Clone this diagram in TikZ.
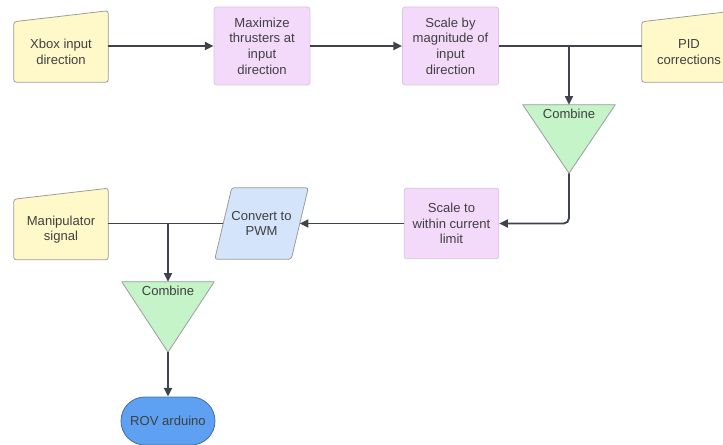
\documentclass[tikz,border=0pt]{standalone}
\usepackage{fontspec}
\setmainfont{Liberation Sans}
\usetikzlibrary{arrows.meta}
\usetikzlibrary{backgrounds}
\definecolor{infill}{HTML}{FFF9C9}
\definecolor{procfill}{HTML}{F3DAFB}
\definecolor{procline}{HTML}{D8C6E0}
\definecolor{combfill}{HTML}{C4F4C8}
\definecolor{convfill}{HTML}{D4E4FA}
\definecolor{rovfill}{HTML}{5EA0F2}
\definecolor{rovline}{HTML}{44709F}
\definecolor{edgegray}{HTML}{9C9C9C}
\definecolor{flowgray}{HTML}{3F444C}
\definecolor{txtgray}{HTML}{404040}
\begin{document}
\begin{tikzpicture}[x=0.75pt, y=-0.75pt,
    every node/.append style={font=\fontsize{9.8}{11.7}\selectfont, text=txtgray, align=center},
    inbox/.style={minimum width=70.5pt, minimum height=45pt, inner sep=0pt},
    inshape/.style={draw=edgegray, fill=infill, line width=0.6pt, rounded corners=2pt},
    procbox/.style={draw=procline, fill=procfill, line width=0.6pt, rounded corners=2pt, minimum width=72pt, minimum height=58.5pt},
    combbox/.style={minimum width=69pt, minimum height=51pt, inner sep=0pt},
    combshape/.style={draw=edgegray, fill=combfill, line width=0.6pt, line join=round},
    flow/.style={draw=flowgray, line width=1.4pt},
    arr/.style={flow, -{Triangle[length=6.5pt, width=6pt]}}]
    \useasboundingbox (0,0) rectangle (723,445);
    \node[inbox] (xbox) at (61,52) {Xbox input\\direction};
    \node[procbox] (max) at (262,46) {Maximize\\thrusters at\\input\\direction};
    \node[procbox] (scale) at (450.5,46) {Scale by\\magnitude of\\input\\direction};
    \node[inbox] (pid) at (689,52) {PID\\corrections};
    \node[combbox] (comb1) at (569,139) {};
    \node at ([yshift=-6.75pt]comb1.north) {Combine};
    \node[procbox, minimum width=71pt, minimum height=53pt] (limit) at (451.5,223.5) {Scale to\\within current\\limit};
    \node[minimum width=69.75pt, minimum height=53.25pt, inner sep=0pt] (conv) at (261.5,223.5) {Convert to\\PWM};
    \node[inbox] (manip) at (61,229.5) {Manipulator\\signal};
    \node[combbox, minimum height=52.5pt] (comb2) at (168,317) {};
    \node at ([yshift=-6.75pt]comb2.north) {Combine};
    \node[draw=rovline, fill=rovfill, line width=0.6pt, rounded corners=17.9pt, minimum width=70.5pt, minimum height=36pt] (rov) at (168,421) {ROV arduino};
    \begin{scope}[on background layer]
        \draw[inshape] (xbox.south west) -- (xbox.south east) -- ([yshift=8.25pt]xbox.north east) -- (xbox.north west) -- cycle;
        \draw[inshape] (pid.south west) -- (pid.south east) -- ([yshift=8.25pt]pid.north east) -- (pid.north west) -- cycle;
        \draw[inshape] (manip.south west) -- (manip.south east) -- ([yshift=8.25pt]manip.north east) -- (manip.north west) -- cycle;
        \draw[combshape] (comb1.north west) -- (comb1.north east) -- (comb1.south) -- cycle;
        \draw[combshape] (comb2.north west) -- (comb2.north east) -- (comb2.south) -- cycle;
        \draw[draw=edgegray, fill=convfill, line width=0.6pt, rounded corners=2pt] ([xshift=12.75pt]conv.north west) -- (conv.north east) -- ([xshift=-12.75pt]conv.south east) -- (conv.south west) -- cycle;
    \end{scope}
    \coordinate (j1) at (comb1.north |- scale.east);
    \coordinate (j2) at (comb2.north |- conv.west);
    \draw[arr] (xbox.east |- max.west) -- (max.west);
    \draw[arr] (max.east) -- (scale.west);
    \draw[flow] (scale.east) -- (pid.west |- scale.east);
    \draw[arr] (j1) -- (comb1.north);
    \draw[arr, rounded corners=4pt] (comb1.south) |- (limit.east);
    \draw[arr] (limit.west) -- ([xshift=-6.4pt]conv.east);
    \draw[flow] ([xshift=6.4pt]conv.west) -- (manip.east |- conv.west);
    \draw[arr] (j2) -- (comb2.north);
    \draw[arr] (comb2.south) -- (rov.north);
\end{tikzpicture}
\end{document}
